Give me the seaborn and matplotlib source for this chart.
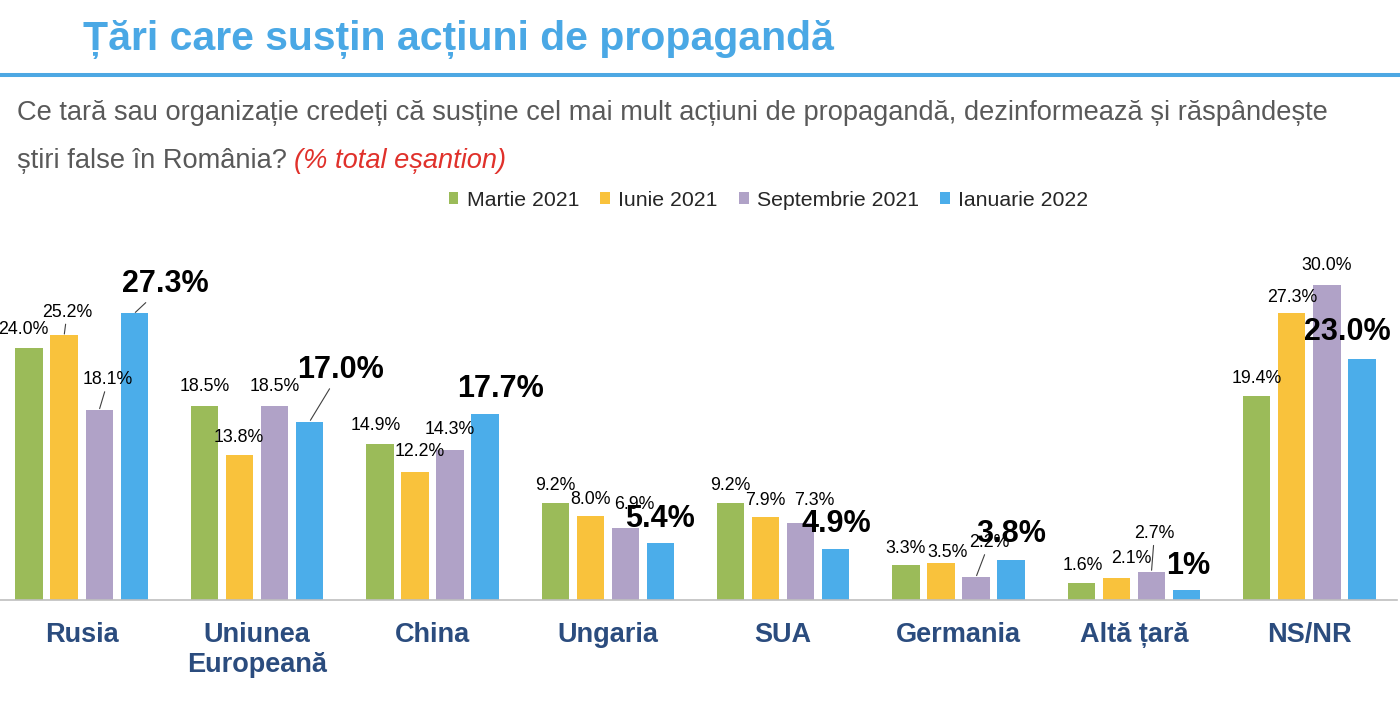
import numpy as np
import pandas as pd
import matplotlib as mpl
mpl.use('Agg')
import matplotlib.pyplot as plt
from matplotlib.lines import Line2D
import seaborn as sns

# date (% total esantion)
tari = ['Rusia', 'Uniunea\nEuropeană', 'China', 'Ungaria', 'SUA', 'Germania', 'Altă țară', 'NS/NR']
perioade = ['Martie 2021', 'Iunie 2021', 'Septembrie 2021', 'Ianuarie 2022']
martie_2021 = [24.0, 18.5, 14.9, 9.2, 9.2, 3.3, 1.6, 19.4]
iunie_2021 = [25.2, 13.8, 12.2, 8.0, 7.9, 3.5, 2.1, 27.3]
septembrie_2021 = [18.1, 18.5, 14.3, 6.9, 7.3, 2.2, 2.7, 30.0]
ianuarie_2022 = [27.3, 17.0, 17.7, 5.4, 4.9, 3.8, 1.0, 23.0]
etichete_ian_2022 = ['27.3%', '17.0%', '17.7%', '5.4%', '4.9%', '3.8%', '1%', '23.0%']

culori = ['#9BBB59', '#F9C23C', '#B0A2C7', '#4BADEA']

# deplasari etichete (pixeli) fata de varful barei, ca in original
deplasari = [
    [(-6, 18), (0, 19), (-4, 18), (0, 18), (0, 18), (0, 17), (1, 18), (0, 18)],
    [(3, 23), (-1, 18), (5, 20), (0, 17), (0, 17), (7, 11), (15, 19), (0, 16)],
    [(9, 30), (0, 19), (0, 20), (9, 23), (14, 23), (13, 34), (3, 38), (0, 19)],
    [(31, 29), (31, 51), (15, 25), (0, 24), (1, 25), (0, 26), (2, 24), (-15, 27)],
]
cu_linie = {(1, 0), (2, 0), (3, 0), (3, 1), (2, 5), (2, 6)}

sns.set_style('white')
plt.rcParams['font.family'] = ['Liberation Sans', 'DejaVu Sans']

df = pd.DataFrame({
    'tara': tari * len(perioade),
    'perioada': np.repeat(perioade, len(tari)),
    'procent': martie_2021 + iunie_2021 + septembrie_2021 + ianuarie_2022,
})

W, H = 1400, 708
fig = plt.figure(figsize=(W / 100, H / 100), dpi=100)
ax = fig.add_axes([-6 / W, 108 / H, 1403 / W, 336 / H])
sns.barplot(data=df, x='tara', y='procent', hue='perioada', order=tari, hue_order=perioade,
            palette=culori, saturation=1, width=0.8, gap=0.22, errorbar=None,
            linewidth=0, ax=ax)
ax.set_xlim(-0.5, len(tari) - 0.5)
ax.set_ylim(0, 32)

serii = [martie_2021, iunie_2021, septembrie_2021, ianuarie_2022]
for i, cont in enumerate(ax.containers):
    for j, bar in enumerate(cont):
        v = serii[i][j]
        x = bar.get_x() + bar.get_width() / 2
        if i == 3:
            txt, fs, fw, z = etichete_ian_2022[j], 22, 'bold', 6
        else:
            txt, fs, fw, z = '%.1f%%' % v, 12.8, 'normal', 5
        arrow = None
        if (i, j) in cu_linie:
            arrow = dict(arrowstyle='-', color='#404040', lw=0.8, shrinkA=0, shrinkB=1)
        ax.annotate(txt, xy=(x, bar.get_height()), xytext=deplasari[i][j],
                    textcoords='offset pixels', ha='center', va='center',
                    fontsize=fs, fontweight=fw, color='black', zorder=z,
                    arrowprops=arrow, annotation_clip=False)

for s in ['left', 'top', 'right']:
    ax.spines[s].set_visible(False)
ax.spines['bottom'].set_color('#BFBFBF')
ax.spines['bottom'].set_linewidth(1.2)
ax.set_yticks([])
ax.set_xlabel('')
ax.set_ylabel('')
ax.set_xticks(range(len(tari)))
ax.set_xticklabels(tari, fontsize=19.5, fontweight='bold', color='#2B4C7E', linespacing=1.18)
ax.set_xticks(np.arange(-0.5, len(tari)), minor=True)
ax.tick_params(axis='x', which='major', length=0, pad=16)
ax.tick_params(axis='x', which='minor', length=6, width=1.2, color='#BFBFBF', direction='out')

handles, labels = ax.get_legend_handles_labels()
ax.get_legend().remove()
fig.legend(handles, labels, loc='center', bbox_to_anchor=(0.549, 1 - 200 / H), ncol=4,
           frameon=False, fontsize=15.3, handlelength=0.45, handleheight=0.45,
           handletextpad=0.4, columnspacing=1.0)

# titlu si intrebare
fig.text(83 / W, 1 - 50 / H, 'Țări care susțin acțiuni de propagandă', fontsize=29.5,
         fontweight='bold', color='#4AA8E5', va='baseline')
fig.add_artist(Line2D([0, 1], [1 - 74.5 / H] * 2, lw=2.9, color='#4DA8E3'))
fig.text(17 / W, 1 - 120 / H,
         'Ce tară sau organizație credeți că susține cel mai mult acțiuni de propagandă, dezinformează și răspândește',
         fontsize=19.6, color='#595959', va='baseline')
t2 = fig.text(17 / W, 1 - 168 / H, 'știri false în România? ', fontsize=19.6,
              color='#595959', va='baseline')
fig.canvas.draw()
bb = t2.get_window_extent()
fig.text(bb.x1 / W, 1 - 168 / H, '(% total eșantion)', fontsize=19.6, style='italic',
         color='#E0312B', va='baseline')

fig.savefig('out.png', dpi=100)
